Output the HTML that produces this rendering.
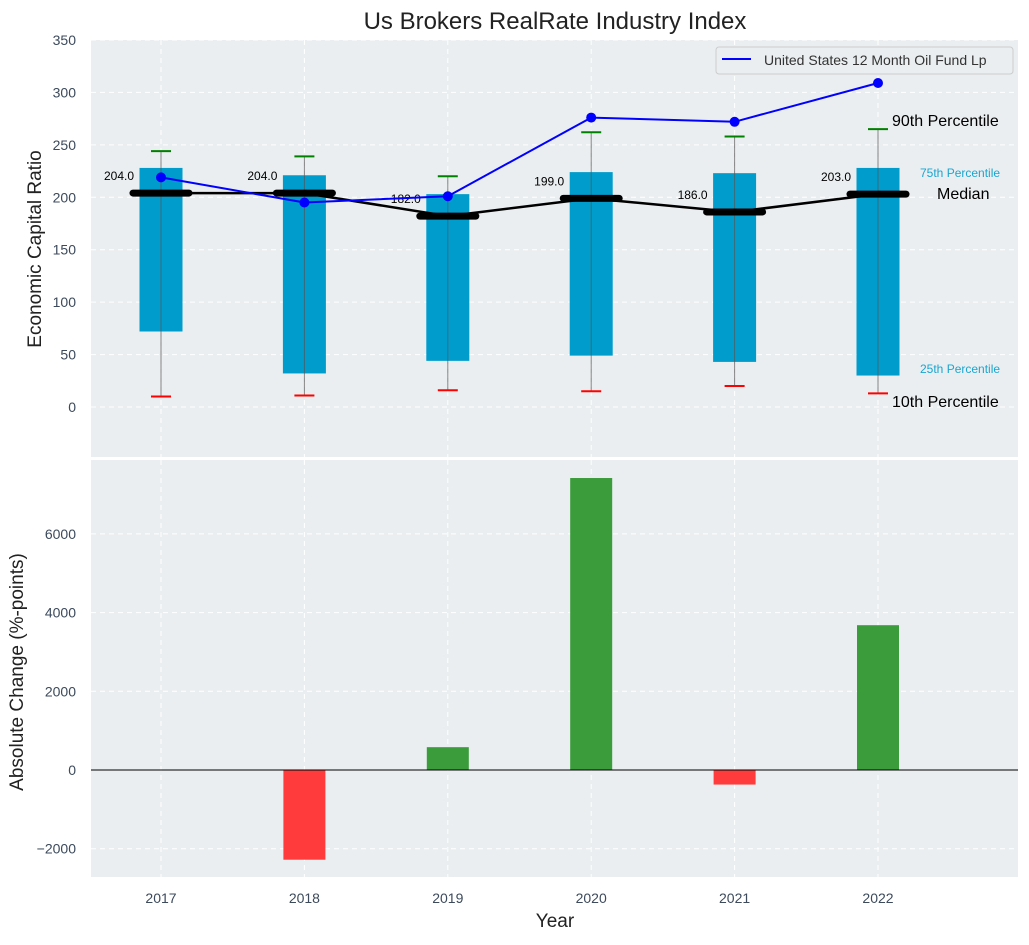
<!DOCTYPE html>
<html><head><meta charset="utf-8"><style>
body{margin:0;background:#fff;font-family:"Liberation Sans",sans-serif}
svg text{font-family:"Liberation Sans",sans-serif}
</style></head><body>
<svg id="chart" width="1029" height="940" xmlns="http://www.w3.org/2000/svg">
<rect width="1029" height="940" fill="#fff"/>
<g id="topPanel"></g>
<g id="botPanel"></g>
<text x="555" y="29" font-size="24" text-anchor="middle" fill="#222">Us Brokers RealRate Industry Index</text>
<text x="555" y="927" font-size="19" text-anchor="middle" fill="#222">Year</text>
<text transform="translate(41,249) rotate(-90)" font-size="19" text-anchor="middle" fill="#222">Economic Capital Ratio</text>
<text transform="translate(23,672) rotate(-90)" font-size="19" text-anchor="middle" fill="#222">Absolute Change (%-points)</text>
</svg>
<script>
const years=["2017","2018","2019","2020","2021","2022"];
const p10=[10,11,16,15,20,13];
const p25=[72,32,44,49,43,30];
const medians=[204,204,182,199,186,203];
const p75=[228,221,203,224,223,228];
const p90=[244,239,220,262,258,265];
const fund=[219,195,201,276,272,309];
const changes=[0,-2280,580,7420,-370,3680];
const topTicks=[0,50,100,150,200,250,300,350];
const botTicks=[-2000,0,2000,4000,6000];

const NS="http://www.w3.org/2000/svg";
const L=91,R=1018;
const x=i=>161+i*143.4;
const yT=v=>407-v*1.0486;
const yB=v=>770-v*0.03935;
function el(p,t,a){const e=document.createElementNS(NS,t);for(const k in a)e.setAttribute(k,a[k]);p.appendChild(e);return e;}
const topG=document.getElementById('topPanel'),botG=document.getElementById('botPanel');

let bg=el(topG,'rect',{x:L,y:40,width:R-L,height:417,fill:'#eaeef0'});

bg=el(botG,'rect',{x:L,y:460,width:R-L,height:417,fill:'#eaeef0'});


topTicks.forEach(v=>{
 el(topG,'line',{x1:L,x2:R,y1:yT(v),y2:yT(v),stroke:'#fff','stroke-dasharray':'5,4','stroke-width':1});
 const t=el(topG,'text',{x:76,y:yT(v)+5,'font-size':14,'text-anchor':'end',fill:'#3c4a5c'});t.textContent=v;
 
});
botTicks.forEach(v=>{
 el(botG,'line',{x1:L,x2:R,y1:yB(v),y2:yB(v),stroke:'#fff','stroke-dasharray':'5,4','stroke-width':1});
 const t=el(botG,'text',{x:76,y:yB(v)+5,'font-size':14,'text-anchor':'end',fill:'#3c4a5c'});t.textContent=v<0?'\u2212'+(-v):v;
 
});
years.forEach((yr,i)=>{
 el(topG,'line',{x1:x(i),x2:x(i),y1:40,y2:457,stroke:'#fff','stroke-dasharray':'5,4'});
 el(botG,'line',{x1:x(i),x2:x(i),y1:460,y2:877,stroke:'#fff','stroke-dasharray':'5,4'});
 const t=el(botG,'text',{x:x(i),y:903,'font-size':14,'text-anchor':'middle',fill:'#3c4a5c'});t.textContent=yr;
 
});

years.forEach((yr,i)=>{
 const b=el(topG,'rect',{x:x(i)-21.5,y:yT(p75[i]),width:43,height:yT(p25[i])-yT(p75[i]),fill:'#009ccc'});
 
 el(topG,'line',{x1:x(i),x2:x(i),y1:yT(p90[i]),y2:yT(p10[i]),stroke:'#555','stroke-width':1,opacity:0.7});
 const h=el(topG,'line',{x1:x(i)-10,x2:x(i)+10,y1:yT(p90[i]),y2:yT(p90[i]),stroke:'green','stroke-width':2});
 
 const l=el(topG,'line',{x1:x(i)-10,x2:x(i)+10,y1:yT(p10[i]),y2:yT(p10[i]),stroke:'red','stroke-width':2});
 
});
let mp=el(topG,'polyline',{points:medians.map((v,i)=>x(i)+','+yT(v)).join(' '),fill:'none',stroke:'#000','stroke-width':2.5});

medians.forEach((v,i)=>{
 const m=el(topG,'line',{x1:x(i)-28,x2:x(i)+28,y1:yT(v),y2:yT(v),stroke:'#000','stroke-width':7,'stroke-linecap':'round'});
 
 const t=el(topG,'text',{x:x(i)-27,y:yT(v)-13,'font-size':12,'text-anchor':'end',fill:'#000'});t.textContent=v.toFixed(1);
 
});
let fp=el(topG,'polyline',{points:fund.map((v,i)=>x(i)+','+yT(v)).join(' '),fill:'none',stroke:'#0000ff','stroke-width':2});

fund.forEach((v,i)=>{const c=el(topG,'circle',{cx:x(i),cy:yT(v),r:5,fill:'#0000ff'});
 });

[[892,126,'90th Percentile',16,'#000'],[920,177,'75th Percentile',12,'#1aa6d0'],[937,199,'Median',16,'#000'],[920,373,'25th Percentile',12,'#1aa6d0'],[892,407,'10th Percentile',16,'#000']].forEach(a=>{
 const t=el(topG,'text',{x:a[0],y:a[1],'font-size':a[3],fill:a[4]});t.textContent=a[2];
 
});

const lg=el(topG,'g',{});
el(lg,'rect',{x:716,y:47,width:297,height:27,rx:3,fill:'#eaeef0',stroke:'#ccc'});
el(lg,'line',{x1:722,x2:751,y1:59,y2:59,stroke:'#0000ff','stroke-width':2});
const lt=el(lg,'text',{x:764,y:65,'font-size':14,fill:'#333'});lt.textContent='United States 12 Month Oil Fund Lp';


changes.forEach((v,i)=>{
 const y0=yB(Math.max(v,0)),h=Math.abs(yB(v)-yB(0));
 const b=el(botG,'rect',{x:x(i)-21,y:y0,width:42,height:h,fill:v>=0?'#3a9c3a':'#ff3b3b'});
 
});
el(botG,'line',{x1:L,x2:R,y1:yB(0),y2:yB(0),stroke:'#000','stroke-width':1});
</script>
</body></html>
